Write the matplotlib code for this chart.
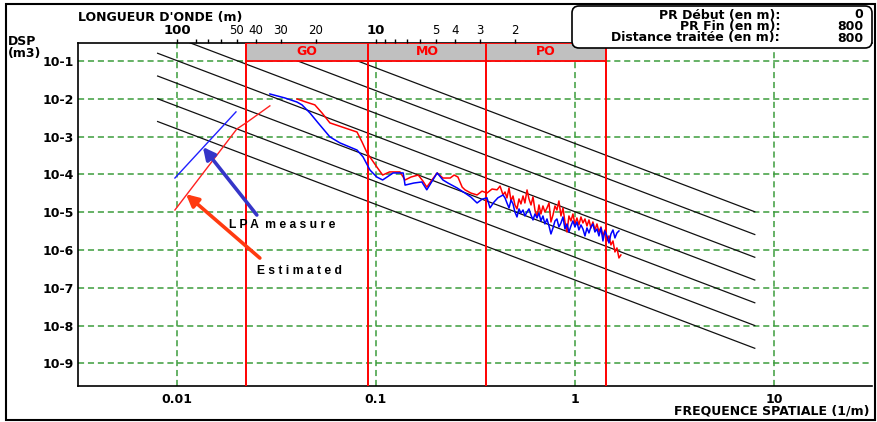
import matplotlib
matplotlib.use("Agg")
import matplotlib.pyplot as plt
from matplotlib.patches import Rectangle, FancyBboxPatch
from matplotlib.transforms import IdentityTransform

plt.rcParams['font.family'] = ['DejaVu Sans']

# ---- data -------------------------------------------------------------
# LPA measure (blue) : spatial frequency (1/m) and PSD (m3)
blue_f = [0.0293, 0.0349, 0.0401, 0.0425, 0.0466, 0.0512, 0.0587, 0.0659, 0.0803, 0.0861,
          0.0933, 0.101, 0.108, 0.122, 0.137, 0.140, 0.155, 0.170, 0.180, 0.203,
          0.217, 0.230, 0.255, 0.280, 0.300, 0.322, 0.341, 0.361, 0.374, 0.392,
          0.410, 0.435,
          0.445, 0.455, 0.466, 0.477, 0.488, 0.499, 0.511, 0.523, 0.535, 0.548,
          0.560, 0.574, 0.587, 0.601, 0.615, 0.629, 0.644, 0.659, 0.674, 0.690,
          0.706, 0.723, 0.740, 0.757, 0.775, 0.793, 0.811, 0.830, 0.850, 0.870,
          0.890, 0.911, 0.932, 0.954, 0.976, 0.999, 1.022, 1.046, 1.071, 1.096,
          1.122, 1.148, 1.175, 1.202, 1.230, 1.259, 1.289, 1.319, 1.350, 1.381,
          1.414, 1.447, 1.481, 1.515, 1.551, 1.587, 1.624, 1.662]
blue_dsp = [1.34e-2, 1.05e-2, 8.2e-3, 6.9e-3, 4.2e-3, 2.3e-3, 9.8e-4, 6.8e-4, 4.4e-4, 2.9e-4,
            1.3e-4, 8.5e-5, 7.1e-5, 1.09e-4, 1.09e-4, 5.2e-5, 5.9e-5, 6.3e-5, 3.9e-5, 1.09e-4,
            7.1e-5, 5.9e-5, 4.4e-5, 3.2e-5, 2.5e-5, 1.75e-5, 2.2e-5, 2.4e-5, 1.3e-5, 1.86e-5,
            2.4e-5, 2.85e-5,
            2.38e-5, 1.75e-5, 1.29e-5, 2.10e-5, 1.65e-5, 1.01e-5, 7.46e-6, 1.22e-5, 9.5e-6, 1.14e-5,
            7.93e-6, 1.01e-5, 1.22e-5, 8.43e-6, 6.22e-6, 8.96e-6, 7.02e-6, 9.5e-6, 5.85e-6, 7.93e-6,
            4.87e-6, 6.61e-6, 4.31e-6, 2.65e-6, 3.82e-6, 5.85e-6, 6.61e-6, 4.06e-6, 5.18e-6, 7.46e-6,
            3.59e-6, 4.87e-6, 2.99e-6, 4.31e-6, 5.85e-6, 4.06e-6, 5.50e-6, 3.38e-6, 4.58e-6, 3.59e-6,
            2.35e-6, 3.82e-6, 2.82e-6, 4.06e-6, 4.87e-6, 2.99e-6, 3.59e-6, 2.35e-6, 3.82e-6, 1.73e-6,
            3.18e-6, 2.35e-6, 1.53e-6, 2.65e-6, 3.38e-6, 2.08e-6, 2.82e-6, 3.18e-6]
blue_lf_f = [0.00977, 0.0198]
blue_lf_dsp = [8.0e-5, 4.5e-3]

# Estimated (red)
red_f = [0.0401, 0.0445, 0.0493, 0.0536, 0.0587, 0.0698, 0.0803, 0.0851, 0.0902, 0.101,
         0.108, 0.117, 0.132, 0.140, 0.150, 0.163, 0.172, 0.180, 0.191, 0.203,
         0.217, 0.236, 0.247, 0.258, 0.271, 0.280, 0.300, 0.322, 0.341, 0.361,
         0.383, 0.406, 0.420, 0.435,
         0.445, 0.455, 0.466, 0.477, 0.488, 0.499, 0.511, 0.523, 0.535, 0.548,
         0.560, 0.574, 0.587, 0.601, 0.615, 0.629, 0.644, 0.659, 0.674, 0.690,
         0.706, 0.723, 0.740, 0.757, 0.775, 0.793, 0.811, 0.830, 0.850, 0.870,
         0.890, 0.911, 0.932, 0.954, 0.976, 0.999, 1.022, 1.046, 1.071, 1.096,
         1.122, 1.148, 1.175, 1.202, 1.230, 1.259, 1.289, 1.319, 1.350, 1.381,
         1.414, 1.447, 1.481, 1.515, 1.551, 1.587, 1.624, 1.662, 1.700]
red_dsp = [9.9e-3, 8.2e-3, 6.9e-3, 4.2e-3, 2.3e-3, 1.69e-3, 1.32e-3, 7.2e-4, 3.7e-4, 1.57e-4,
           9.6e-5, 1.16e-4, 1.16e-4, 7.1e-5, 8.5e-5, 9.6e-5, 6.7e-5, 4.6e-5, 7.1e-5, 1.09e-4,
           8.0e-5, 8.0e-5, 9.6e-5, 8.5e-5, 4.6e-5, 3.9e-5, 3.2e-5, 2.85e-5, 3.6e-5, 3.2e-5,
           4.1e-5, 3.9e-5, 4.9e-5, 2.85e-5,
           3.42e-5, 2.38e-5, 4.37e-5, 1.98e-5, 2.68e-5, 1.55e-5, 1.22e-5, 2.24e-5, 1.65e-5, 2.68e-5,
           1.75e-5, 3.87e-5, 2.24e-5, 1.55e-5, 2.53e-5, 1.14e-5, 7.46e-6, 1.55e-5, 8.96e-6, 1.46e-5,
           1.01e-5, 1.29e-5, 1.75e-5, 5.50e-6, 8.43e-6, 1.46e-5, 1.14e-5, 1.98e-5, 7.93e-6, 1.29e-5,
           5.50e-6, 2.99e-6, 7.93e-6, 5.85e-6, 8.96e-6, 4.87e-6, 7.02e-6, 4.58e-6, 7.46e-6, 5.18e-6,
           6.61e-6, 4.31e-6, 6.22e-6, 3.82e-6, 5.50e-6, 3.38e-6, 4.87e-6, 2.99e-6, 4.06e-6, 2.35e-6,
           3.38e-6, 1.73e-6, 2.35e-6, 1.36e-6, 1.73e-6, 8.85e-7, 1.13e-6, 6.14e-7, 7.37e-7]
red_lf_f = [0.00977, 0.0200, 0.0225, 0.0293]
red_lf_dsp = [1.14e-5, 1.59e-3, 2.4e-3, 6.5e-3]

# Road class reference lines: Gd(n) = Gd0 * (n / n0)^-2, n0 = 0.1 1/m
n0 = 0.1
class_gd0 = [16e-6, 64e-6, 256e-6, 1024e-6, 4096e-6, 16384e-6, 65536e-6]
class_f_range = [0.008, 8.0]

# Wavelength bands (m)
band_names = ["GO", "MO", "PO"]
band_limits = [45.0, 11.0, 2.8, 0.7]

# Axis ticks
y_ticks = [1e-1, 1e-2, 1e-3, 1e-4, 1e-5, 1e-6, 1e-7, 1e-8, 1e-9]
y_labels = ["10-1", "10-2", "10-3", "10-4", "10-5", "10-6", "10-7", "10-8", "10-9"]
x_ticks = [0.01, 0.1, 1, 10]
x_labels = ["0.01", "0.1", "1", "10"]
wl_ticks = [100, 80, 70, 60, 50, 40, 30, 20, 10, 9, 8, 7, 6, 5, 4, 3, 2]
wl_labels = {100: "100", 50: "50", 40: "40", 30: "30", 20: "20", 10: "10",
             5: "5", 4: "4", 3: "3", 2: "2"}

info_labels = ["PR Début (en m):", "PR Fin (en m):", "Distance traitée (en m):"]
info_values = ["0", "800", "800"]

# ---- figure -----------------------------------------------------------
W, H = 877, 422
fig = plt.figure(figsize=(W / 100, H / 100), dpi=100)
fig.patch.set_facecolor("white")

ax = fig.add_axes([78 / W, (H - 386) / H, (872 - 78) / W, (386 - 43) / H])
ax.set_xscale("log")
ax.set_yscale("log")
xlim = (10 ** -2.497, 10 ** 1.492)
ylim = (10 ** -9.6, 10 ** -0.524)
ax.set_xlim(*xlim)
ax.set_ylim(*ylim)

ax.set_yticks(y_ticks)
ax.set_yticklabels(y_labels)
ax.set_xticks(x_ticks)
ax.set_xticklabels(x_labels)
ax.minorticks_off()
ax.tick_params(axis="both", length=0, labelsize=9)
ax.tick_params(axis="y", pad=3)
ax.tick_params(axis="x", pad=5)
for lab in ax.get_xticklabels() + ax.get_yticklabels():
    lab.set_fontweight("bold")

ax.set_axisbelow(True)
ax.grid(True, which="major", color="#3c9c3c", linestyle=(0, (4, 2.5)), linewidth=1.1)

for side in ("left", "bottom", "top"):
    ax.spines[side].set_color("black")
    ax.spines[side].set_linewidth(1.2)
ax.spines["right"].set_visible(False)

# reference class lines
for g in class_gd0:
    ys = [g * (f / n0) ** -2 for f in class_f_range]
    ax.plot(class_f_range, ys, color="#111111", lw=0.9, zorder=2)

# wavelength band bar
band_f = [1.0 / w for w in band_limits]
ax.add_patch(Rectangle((band_f[0], 1e-1), band_f[-1] - band_f[0], ylim[1] - 1e-1,
                       facecolor="#c0c0c0", edgecolor="none", zorder=3))
ax.hlines([1e-1, ylim[1]], band_f[0], band_f[-1], color="red", lw=1.3, zorder=4)
for f in band_f:
    ax.axvline(f, color="red", lw=1.4, zorder=4)
ymid = (1e-1 * ylim[1]) ** 0.5
for name, fa, fb in zip(band_names, band_f[:-1], band_f[1:]):
    ax.text((fa * fb) ** 0.5, ymid, name, color="red", fontsize=9, fontweight="bold",
            ha="center", va="center", zorder=5)

# data curves
ax.plot(blue_lf_f, blue_lf_dsp, color="#2020ff", lw=1.0, zorder=6)
ax.plot(red_lf_f, red_lf_dsp, color="#ff2020", lw=1.0, zorder=6)
ax.plot(red_f, red_dsp, color="#ff0000", lw=1.1, zorder=6)
ax.plot(blue_f, blue_dsp, color="#0000ff", lw=1.1, zorder=7)

# legend arrows and texts
ax.annotate("", xy=(0.0135, 5.3e-4), xytext=(0.0252, 8.4e-6),
            arrowprops=dict(arrowstyle="-|>", color="#3535c8", lw=2.6,
                            mutation_scale=18, shrinkA=0, shrinkB=0), zorder=8)
ax.annotate("", xy=(0.0111, 3.0e-5), xytext=(0.0261, 6.1e-7),
            arrowprops=dict(arrowstyle="-|>", color="#ff3a10", lw=2.6,
                            mutation_scale=18, shrinkA=0, shrinkB=0), zorder=8)
ax.text(0.0182, 4.6e-6, "L P A  m e a s u r e", family="Liberation Sans",
        fontweight="bold", fontsize=8.7, ha="left", va="center", zorder=8)
ax.text(0.0252, 2.8e-7, "E s t i m a t e d", family="Liberation Sans",
        fontweight="bold", fontsize=8.7, ha="left", va="center", zorder=8)

# wavelength axis on top
ax_top = ax.twiny()
ax_top.set_xscale("log")
ax_top.set_xlim(*xlim)
ax_top.set_xticks([1.0 / w for w in wl_ticks])
ax_top.set_xticklabels([wl_labels.get(w, "") for w in wl_ticks])
ax_top.minorticks_off()
ax_top.tick_params(axis="x", direction="out", length=3, width=1, pad=1, labelsize=8.5)
for w, lab in zip(wl_ticks, ax_top.get_xticklabels()):
    if w in (100, 10):
        lab.set_fontweight("bold")
        lab.set_fontsize(9.5)
for s in ax_top.spines.values():
    s.set_visible(False)

# titles
fig.text(78 / W, 1 - 18 / H, "LONGUEUR D'ONDE (m)", fontsize=9, fontweight="bold",
         ha="left", va="center")
fig.text(8 / W, 1 - 35 / H, "DSP\n(m3)", fontsize=9, fontweight="bold",
         ha="left", va="top", linespacing=0.85)
fig.text(870 / W, 1 - 411 / H, "FREQUENCE SPATIALE (1/m)", fontsize=9,
         fontweight="bold", ha="right", va="center")

# info box
box = FancyBboxPatch((572, H - 48), 300, 42, boxstyle="round,pad=0,rounding_size=7",
                     transform=IdentityTransform(), facecolor="white",
                     edgecolor="black", lw=1.2, zorder=10)
fig.patches.append(box)
for i, (lab, val) in enumerate(zip(info_labels, info_values)):
    yy = 1 - (15 + i * 11.5) / H
    fig.text(780 / W, yy, lab, fontsize=9, fontweight="bold", ha="right",
             va="center", zorder=11)
    fig.text(863 / W, yy, val, fontsize=9, fontweight="bold", ha="right",
             va="center", zorder=11)

# outer frame
frame = Rectangle((6, 2), 869, 416, transform=IdentityTransform(), fill=False,
                  edgecolor="black", lw=1.5, zorder=12)
fig.patches.append(frame)

fig.savefig("out.png", dpi=100)
